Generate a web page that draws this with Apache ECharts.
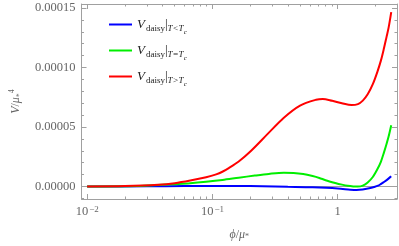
<!DOCTYPE html>
<html>
<head>
<meta charset="utf-8">
<script src="https://cdn.jsdelivr.net/npm/echarts@6/dist/echarts.min.js"></script>
<style>html,body{margin:0;padding:0;background:#fff}#c{width:399px;height:246px}</style>
</head>
<body>
<div id="c"></div>
<script>
// ---- data (phi / mu*, V / mu*^4 in units of 1e-5) ----
const bluePhi = [0.01,0.03,0.06,0.1,0.16,0.25,0.4,0.63,1.0,1.26,1.41,1.58,1.78,1.95,2.1,2.19,2.33,2.5,2.67];
const blueV   = [0,0.02,0.04,0.05,0.05,0.03,-0.02,-0.07,-0.17,-0.27,-0.3,-0.26,-0.15,-0.04,0.07,0.18,0.37,0.6,0.86];
const greenPhi = [0.01,0.025,0.0368,0.05,0.0665,0.089,0.12,0.162,0.218,0.282,0.3715,0.444,0.53,0.63,0.713,0.8,0.955,1.079,1.2,1.33,1.445,1.585,1.734,1.905,2.075,2.213,2.333,2.455,2.547,2.673];
const greenV   = [0,0.04,0.12,0.2,0.28,0.4,0.55,0.74,0.92,1.06,1.16,1.14,1.05,0.88,0.72,0.53,0.3,0.16,0.06,0.01,0.0,0.08,0.34,0.8,1.47,2.1,2.83,3.6,4.2,5.15];
const redPhi = [0.01,0.02,0.0368,0.05,0.0665,0.089,0.107,0.12,0.135,0.162,0.2056,0.276,0.3715,0.5,0.671,0.759,0.904,1.079,1.29,1.45,1.585,1.734,1.905,2.075,2.213,2.333,2.455,2.547,2.673];
const redV   = [0,0.04,0.15,0.28,0.5,0.78,1.02,1.24,1.55,2.1,3.05,4.42,5.78,6.8,7.29,7.36,7.2,7.0,6.85,6.93,7.22,7.75,8.6,9.66,10.6,11.57,12.6,13.35,14.66];
const vScale = 1e-5;
const xTickValues = [0.01, 0.1, 1];
const yTickValues = [0, 0.00005, 0.0001, 0.00015];
const yTickLabels = ['0.00000', '0.00005', '0.00010', '0.00015'];
const seriesNames = ['blue', 'green', 'red'];
const seriesColors = ['#0000ff', '#00ee00', '#ff0000'];
const legendSubs = ['T<T', 'T=T', 'T>T'];

// ---- axis ranges ----
const xMin = -2.045, xMax = 0.473;           // log10(phi)
const yMin = -1.05e-5, yMax = 15.34e-5;

const lg = v => Math.log10(v);
const xMajor = xTickValues.map(lg);
const xMinor = [];
for (let n = -3; n <= 0; n++) for (let k = 2; k <= 9; k++) {
  const v = Math.log10(k * Math.pow(10, n));
  if (v > xMin && v < xMax) xMinor.push(v);
}
const yMinor = [];
for (let k = -1; k <= 15; k++) if (k % 5 !== 0) yMinor.push(k * 1e-5);

const frameColor = '#a0a0a0';
const labelColor = '#666666';
const serif = 'Liberation Serif';

function xLabel(v) {
  const e = Math.round(v);
  if (e === 0) return '1';
  return '10{sup|' + (e < 0 ? '\u2212' + (-e) : e) + '}';
}

function mkX(opts) {
  return Object.assign({
    type: 'value', min: xMin, max: xMax, position: 'bottom',
    splitLine: {show: false},
    axisLine: {show: false, onZero: false},
    axisTick: {show: false},
    axisLabel: {show: false}
  }, opts);
}
function mkY(opts) {
  return Object.assign({
    type: 'value', min: yMin, max: yMax, position: 'left',
    splitLine: {show: false},
    axisLine: {show: false, onZero: false},
    axisTick: {show: false},
    axisLabel: {show: false}
  }, opts);
}
const tickLine = {color: frameColor, width: 1};

const xAxes = [
  mkX({
    axisLine: {show: true, onZero: false, lineStyle: {color: frameColor}},
    axisTick: {show: true, inside: true, length: 5, customValues: xMajor, lineStyle: tickLine},
    axisLabel: {show: true, customValues: xMajor, margin: 6, formatter: xLabel,
      color: labelColor, fontFamily: serif, fontSize: 12.5,
      rich: {sup: {fontSize: 9, fontFamily: serif, color: labelColor, verticalAlign: 'top', lineHeight: 9, padding: [0,0,0,1]}}},
    name: '{i|\u03d5}/{i|\u03bc}{sub|*}', nameLocation: 'middle', nameGap: 30,
    nameTextStyle: {fontFamily: serif, fontSize: 12, color: labelColor,
      rich: {i: {fontStyle: 'italic', fontFamily: serif, fontSize: 12, color: labelColor},
             sub: {fontSize: 8, fontFamily: serif, color: labelColor, verticalAlign: 'bottom', lineHeight: 12}}}
  }),
  mkX({axisTick: {show: true, inside: true, length: 2.5, customValues: xMinor, lineStyle: tickLine}}),
  mkX({position: 'top', axisLine: {show: true, onZero: false, lineStyle: {color: frameColor}},
       axisTick: {show: true, inside: true, length: 5, customValues: xMajor, lineStyle: tickLine}}),
  mkX({position: 'top', axisTick: {show: true, inside: true, length: 2.5, customValues: xMinor, lineStyle: tickLine}}),
  mkX({axisLine: {show: true, onZero: true, onZeroAxisIndex: 0, lineStyle: {color: frameColor}}})
];
const yAxes = [
  mkY({
    axisLine: {show: true, onZero: false, lineStyle: {color: frameColor}},
    axisTick: {show: true, inside: true, length: 5, customValues: yTickValues, lineStyle: tickLine},
    axisLabel: {show: true, customValues: yTickValues, margin: 6,
      formatter: v => { const i = yTickValues.findIndex(t => Math.abs(t - v) < 1e-9); return i >= 0 ? yTickLabels[i] : ''; },
      color: labelColor, fontFamily: serif, fontSize: 12.5},
    name: '{i|V}/{i|\u03bc}{sub|*}{sup|4}', nameLocation: 'middle', nameGap: 54, nameRotate: 90,
    nameTextStyle: {fontFamily: serif, fontSize: 12, color: labelColor,
      rich: {i: {fontStyle: 'italic', fontFamily: serif, fontSize: 12, color: labelColor, lineHeight: 16},
             sub: {fontSize: 8, fontFamily: serif, color: labelColor, verticalAlign: 'bottom', lineHeight: 16},
             sup: {fontSize: 8, fontFamily: serif, color: labelColor, verticalAlign: 'top', lineHeight: 16}}}
  }),
  mkY({axisTick: {show: true, inside: true, length: 2.5, customValues: yMinor, lineStyle: tickLine}}),
  mkY({position: 'right', axisLine: {show: true, onZero: false, lineStyle: {color: frameColor}},
       axisTick: {show: true, inside: true, length: 5, customValues: yTickValues, lineStyle: tickLine}}),
  mkY({position: 'right', axisTick: {show: true, inside: true, length: 2.5, customValues: yMinor, lineStyle: tickLine}})
];

const phis = [bluePhi, greenPhi, redPhi];
const vals = [blueV, greenV, redV];
const series = seriesNames.map((name, i) => ({
  name: name, type: 'line', xAxisIndex: 0, yAxisIndex: 0,
  symbol: 'none', smooth: 0.3, clip: true,
  lineStyle: {color: seriesColors[i], width: 2},
  itemStyle: {color: seriesColors[i]},
  data: phis[i].map((p, j) => [lg(p), vals[i][j] * vScale])
}));

const legendRich = {
  v: {fontFamily: serif, fontStyle: 'italic', fontSize: 13, color: '#222', lineHeight: 14, verticalAlign: 'middle'},
  d: {fontFamily: serif, fontSize: 9, color: '#222', lineHeight: 14, verticalAlign: 'bottom', padding: [0,0,-2,1]},
  bar: {fontFamily: serif, fontSize: 13, color: '#222', lineHeight: 14, verticalAlign: 'middle'},
  t: {fontFamily: serif, fontStyle: 'italic', fontSize: 9, color: '#222', lineHeight: 14, verticalAlign: 'bottom', padding: [0,0,-2,0]},
  c: {fontFamily: serif, fontStyle: 'italic', fontSize: 7, color: '#222', lineHeight: 14, verticalAlign: 'bottom', padding: [0,0,-4,0]}
};
const legendTops = [18, 44, 70];
const legends = seriesNames.map((name, i) => ({
  data: [{name: name, icon: 'rect'}], left: 109, top: legendTops[i], padding: 0,
  itemWidth: 23, itemHeight: 2, itemGap: 6, selectedMode: false,
  formatter: () => '{v|V}{d|daisy}{bar||}{t|' + legendSubs[i] + '}{c|c}',
  textStyle: {rich: legendRich}
}));

const chart = echarts.init(document.getElementById('c'), null, {renderer: 'canvas'});
chart.setOption({
  animation: false,
  backgroundColor: '#ffffff',
  grid: {left: 70.5, right: 2, top: 4, bottom: 42, containLabel: false},
  legend: legends,
  xAxis: xAxes,
  yAxis: yAxes,
  series: series
});
</script>
</body>
</html>
